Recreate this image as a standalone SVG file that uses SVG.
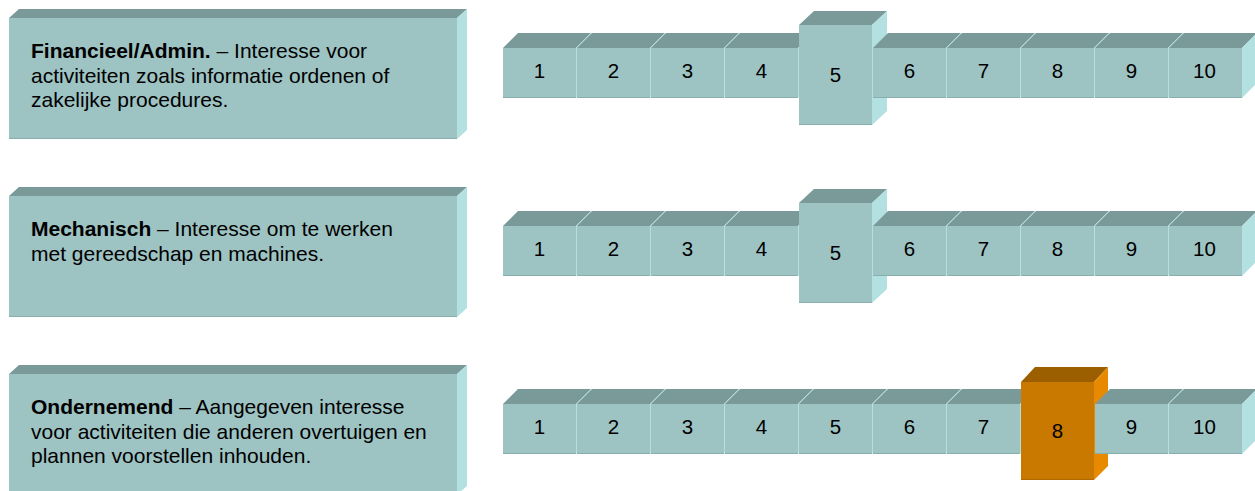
<svg xmlns="http://www.w3.org/2000/svg" xmlns:xlink="http://www.w3.org/1999/xlink" width="1255" height="491" viewBox="0 0 1255 491">
<style>
.front{fill:#9DC3C3}
.top{fill:#7A9999}
.side{fill:#B3E0E0}
.edge{fill:#88AEAE}
.ofront{fill:#C97800}
.otop{fill:#9C5F00}
.oside{fill:#E88A00}
.oedge{fill:#B06800}
.lbl{font-family:"Liberation Sans",Arial,sans-serif;font-size:21px;fill:#000}
.num{font-family:"Liberation Sans",Arial,sans-serif;font-size:20.5px;fill:#000;text-anchor:middle}
.b{font-weight:bold}
</style>
<defs>
<g id="panel">
<polygon class="top" points="0,0 10,-9 458,-9 448,0"/>
<polygon class="side" points="448,0 458,-9 458,112 448,121"/>
<rect class="front" x="0" y="0" width="448" height="121"/>
<rect class="edge" x="0" y="120" width="448" height="1"/>
</g>
<g id="cellS">
<polygon class="top" points="0,0 15,-15 88,-15 73,0"/>
<polygon class="side" points="73,0 88,-15 88,35 73,50"/>
<rect class="front" x="0" y="0" width="73" height="50"/>
<rect class="edge" x="0" y="49" width="73" height="1"/>
</g>
<g id="cellB">
<polygon class="top" points="0,0 15,-14 88,-14 73,0"/>
<polygon class="side" points="73,0 88,-14 88,86 73,100"/>
<rect class="front" x="0" y="0" width="73" height="100"/>
<rect class="edge" x="0" y="99" width="73" height="1"/>
</g>
<g id="cellO">
<polygon class="otop" points="0,0 14,-15 87,-15 73,0"/>
<polygon class="oside" points="73,0 87,-15 87,84 73,98"/>
<rect class="ofront" x="0" y="0" width="73" height="98"/>
<rect class="oedge" x="0" y="97" width="73" height="1"/>
</g>
</defs>

<g id="node-financieel">
<use xlink:href="#panel" href="#panel" x="9" y="18"/>
<text class="lbl" x="31" y="58"><tspan class="b">Financieel/Admin.</tspan> – Interesse voor</text>
<text class="lbl" x="31" y="82.5">activiteiten zoals informatie ordenen of</text>
<text class="lbl" x="31" y="107">zakelijke procedures.</text>
</g>
<g id="node-mechanisch">
<use xlink:href="#panel" href="#panel" x="9" y="196"/>
<text class="lbl" x="31" y="236"><tspan class="b">Mechanisch</tspan> – Interesse om te werken</text>
<text class="lbl" x="31" y="260.5">met gereedschap en machines.</text>
</g>
<g id="node-ondernemend">
<use xlink:href="#panel" href="#panel" x="9" y="374"/>
<text class="lbl" x="31" y="414"><tspan class="b">Ondernemend</tspan> – Aangegeven interesse</text>
<text class="lbl" x="31" y="438.5">voor activiteiten die anderen overtuigen en</text>
<text class="lbl" x="31" y="463">plannen voorstellen inhouden.</text>
</g>

<g id="scale-financieel">
<use xlink:href="#cellS" href="#cellS" x="503" y="48"/><text class="num" x="539.5" y="78">1</text>
<use xlink:href="#cellS" href="#cellS" x="577" y="48"/><text class="num" x="613.5" y="78">2</text>
<use xlink:href="#cellS" href="#cellS" x="651" y="48"/><text class="num" x="687.5" y="78">3</text>
<use xlink:href="#cellS" href="#cellS" x="725" y="48"/><text class="num" x="761.5" y="78">4</text>
<use xlink:href="#cellB" href="#cellB" x="799" y="25"/><text class="num" x="835.5" y="82">5</text>
<use xlink:href="#cellS" href="#cellS" x="873" y="48"/><text class="num" x="909.5" y="78">6</text>
<use xlink:href="#cellS" href="#cellS" x="947" y="48"/><text class="num" x="983.5" y="78">7</text>
<use xlink:href="#cellS" href="#cellS" x="1021" y="48"/><text class="num" x="1057.5" y="78">8</text>
<use xlink:href="#cellS" href="#cellS" x="1095" y="48"/><text class="num" x="1131.5" y="78">9</text>
<use xlink:href="#cellS" href="#cellS" x="1169" y="48"/><text class="num" x="1204.5" y="78">10</text>
</g>
<g id="scale-mechanisch">
<use xlink:href="#cellS" href="#cellS" x="503" y="226"/><text class="num" x="539.5" y="256">1</text>
<use xlink:href="#cellS" href="#cellS" x="577" y="226"/><text class="num" x="613.5" y="256">2</text>
<use xlink:href="#cellS" href="#cellS" x="651" y="226"/><text class="num" x="687.5" y="256">3</text>
<use xlink:href="#cellS" href="#cellS" x="725" y="226"/><text class="num" x="761.5" y="256">4</text>
<use xlink:href="#cellB" href="#cellB" x="799" y="203"/><text class="num" x="835.5" y="260">5</text>
<use xlink:href="#cellS" href="#cellS" x="873" y="226"/><text class="num" x="909.5" y="256">6</text>
<use xlink:href="#cellS" href="#cellS" x="947" y="226"/><text class="num" x="983.5" y="256">7</text>
<use xlink:href="#cellS" href="#cellS" x="1021" y="226"/><text class="num" x="1057.5" y="256">8</text>
<use xlink:href="#cellS" href="#cellS" x="1095" y="226"/><text class="num" x="1131.5" y="256">9</text>
<use xlink:href="#cellS" href="#cellS" x="1169" y="226"/><text class="num" x="1204.5" y="256">10</text>
</g>
<g id="scale-ondernemend">
<use xlink:href="#cellS" href="#cellS" x="503" y="404"/><text class="num" x="539.5" y="434">1</text>
<use xlink:href="#cellS" href="#cellS" x="577" y="404"/><text class="num" x="613.5" y="434">2</text>
<use xlink:href="#cellS" href="#cellS" x="651" y="404"/><text class="num" x="687.5" y="434">3</text>
<use xlink:href="#cellS" href="#cellS" x="725" y="404"/><text class="num" x="761.5" y="434">4</text>
<use xlink:href="#cellS" href="#cellS" x="799" y="404"/><text class="num" x="835.5" y="434">5</text>
<use xlink:href="#cellS" href="#cellS" x="873" y="404"/><text class="num" x="909.5" y="434">6</text>
<use xlink:href="#cellS" href="#cellS" x="947" y="404"/><text class="num" x="983.5" y="434">7</text>
<use xlink:href="#cellO" href="#cellO" x="1021" y="382"/><text class="num" x="1057.5" y="438">8</text>
<use xlink:href="#cellS" href="#cellS" x="1095" y="404"/><text class="num" x="1131.5" y="434">9</text>
<use xlink:href="#cellS" href="#cellS" x="1169" y="404"/><text class="num" x="1204.5" y="434">10</text>
</g>
<g id="connectors"/>
</svg>
